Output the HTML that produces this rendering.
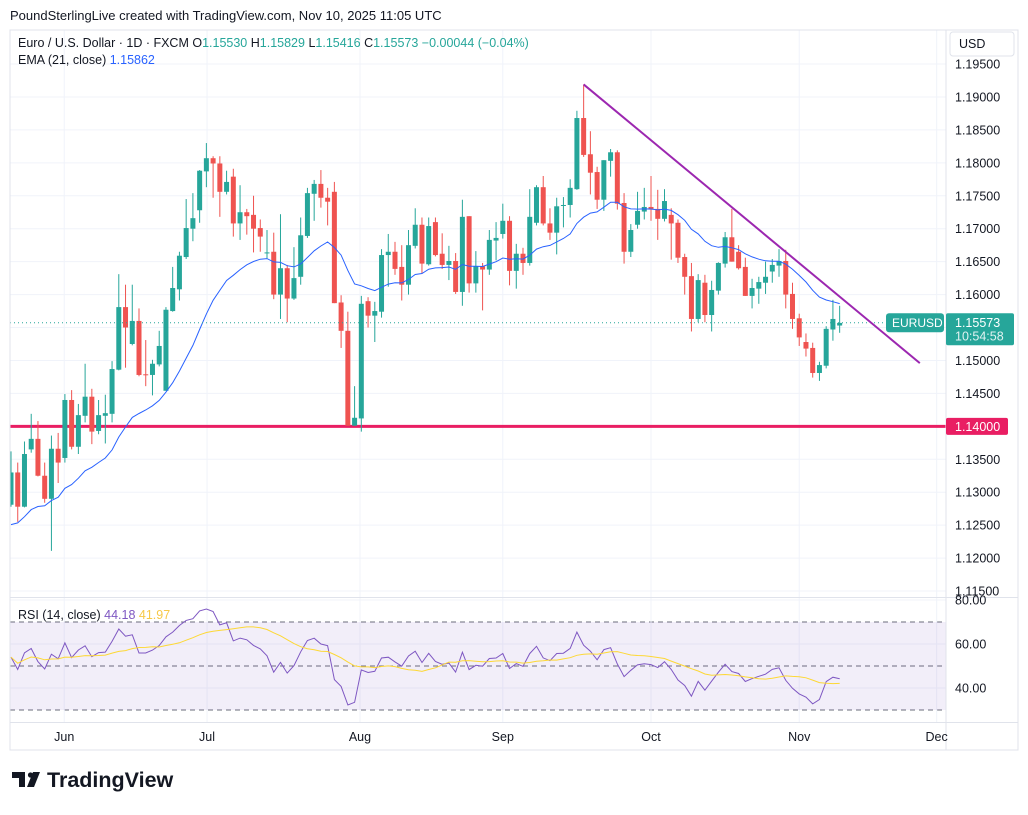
<!DOCTYPE html>
<html><head><meta charset="utf-8"><style>
html,body{margin:0;padding:0;background:#fff;}
body{width:1028px;height:810px;overflow:hidden;font-family:"Liberation Sans",sans-serif;}
svg text{font-family:"Liberation Sans",sans-serif;}
</style></head><body>
<svg id="chart" width="1028" height="810" viewBox="0 0 1028 810" xmlns="http://www.w3.org/2000/svg">
<defs>
<clipPath id="mainClip"><rect x="10" y="30" width="936" height="567"/></clipPath>
<clipPath id="rsiClip"><rect x="10" y="598" width="936" height="124"/></clipPath>
</defs>
<rect x="0" y="0" width="1028" height="810" fill="#fff"/>
<text x="10" y="20" font-size="13" fill="#131722">PoundSterlingLive created with TradingView.com, Nov 10, 2025 11:05 UTC</text>
<g id="grid"></g>
<rect x="10" y="622" width="936" height="88" fill="#7e57c2" fill-opacity="0.1"/>
<g id="main" clip-path="url(#mainClip)"></g>
<g id="rsi" clip-path="url(#rsiClip)"></g>
<g id="frame">
<rect x="10" y="30" width="1008" height="720" fill="none" stroke="#e0e3eb" stroke-width="1"/>
<line x1="946" y1="30" x2="946" y2="750" stroke="#e0e3eb"/>
<line x1="10" y1="597.5" x2="1018" y2="597.5" stroke="#e0e3eb"/>
<line x1="10" y1="722.5" x2="1018" y2="722.5" stroke="#e0e3eb"/>
</g>
<g id="axes"></g>
<text x="18" y="47" font-size="12.5" fill="#131722">Euro / U.S. Dollar · 1D · FXCM <tspan fill="#131722">O</tspan><tspan fill="#26a69a">1.15530</tspan> <tspan>H</tspan><tspan fill="#26a69a">1.15829</tspan> <tspan>L</tspan><tspan fill="#26a69a">1.15416</tspan> <tspan>C</tspan><tspan fill="#26a69a">1.15573</tspan> <tspan fill="#26a69a">−0.00044 (−0.04%)</tspan></text>
<text x="18" y="64" font-size="12.5" fill="#131722">EMA (21, close) <tspan fill="#2962ff">1.15862</tspan></text>
<text x="18" y="619" font-size="12.5" fill="#131722">RSI (14, close) <tspan fill="#7e57c2">44.18</tspan> <tspan fill="#f7c948">41.97</tspan></text>
<g>
<rect x="950" y="32" width="64" height="24" rx="3" fill="#fff" stroke="#e0e3eb"/>
<text x="959" y="48" font-size="12.5" fill="#131722">USD</text>
</g>
<g>
<path d="M12 772h13v15h-6v-9h-7z M27 787l6-15h7l-6 15z" fill="#131722"/>
<circle cx="30.5" cy="775" r="2.6" fill="#131722"/>
<text x="47" y="787" font-size="21.5" font-weight="bold" fill="#131722">TradingView</text>
</g>
</svg>
<script>
const opens=[1.1281,1.1330,1.1278,1.1365,1.1381,1.1325,1.1290,1.1366,1.1352,1.1440,1.1369,1.1416,1.1445,1.1393,1.1416,1.1419,1.1486,1.1581,1.1525,1.1560,1.1479,1.1478,1.1494,1.1454,1.1575,1.1608,1.1657,1.1700,1.1728,1.1787,1.1807,1.1799,1.1756,1.1779,1.1708,1.1725,1.1721,1.1701,1.1663,1.1665,1.1600,1.1640,1.1594,1.1627,1.1689,1.1753,1.1768,1.1747,1.1756,1.1588,1.1545,1.1401,1.1412,1.1590,1.1568,1.1574,1.1660,1.1665,1.1642,1.1615,1.1674,1.1706,1.1646,1.1710,1.1662,1.1645,1.1651,1.1604,1.1719,1.1617,1.1643,1.1638,1.1682,1.1692,1.1712,1.1636,1.1662,1.1648,1.1709,1.1763,1.1708,1.1694,1.1735,1.1736,1.1760,1.1868,1.1813,1.1786,1.1744,1.1803,1.1816,1.1739,1.1665,1.1706,1.1726,1.1733,1.1730,1.1715,1.1721,1.1709,1.1657,1.1628,1.1563,1.1618,1.1569,1.1606,1.1647,1.1687,1.1665,1.1642,1.1598,1.1609,1.1618,1.1635,1.1644,1.1651,1.1601,1.1564,1.1528,1.1519,1.1481,1.1492,1.1547,1.1553];
const highs=[1.1362,1.1345,1.1377,1.1419,1.1408,1.1345,1.1386,1.1390,1.1449,1.1455,1.1434,1.1495,1.1457,1.1440,1.1448,1.1499,1.1631,1.1615,1.1615,1.1579,1.1531,1.1501,1.1545,1.1581,1.1642,1.1665,1.1745,1.1754,1.1789,1.1830,1.1810,1.1810,1.1788,1.1791,1.1766,1.1730,1.1750,1.1714,1.1698,1.1694,1.1722,1.1645,1.1672,1.1717,1.1762,1.1774,1.1789,1.1762,1.1771,1.1599,1.1574,1.1461,1.1598,1.1596,1.1589,1.1669,1.1692,1.1680,1.1675,1.1698,1.1731,1.1717,1.1717,1.1717,1.1693,1.1674,1.1663,1.1744,1.1719,1.1666,1.1648,1.1698,1.1710,1.1738,1.1719,1.1677,1.1671,1.1760,1.1766,1.1780,1.1731,1.1747,1.1748,1.1775,1.1879,1.1919,1.1848,1.1794,1.1804,1.1821,1.1819,1.1754,1.1707,1.1756,1.1762,1.1780,1.1759,1.1760,1.1731,1.1714,1.1662,1.1648,1.1631,1.1630,1.1621,1.1649,1.1695,1.1730,1.1675,1.1656,1.1624,1.1627,1.1650,1.1654,1.1669,1.1668,1.1618,1.1571,1.1541,1.1527,1.1498,1.1552,1.1592,1.1583];
const lows=[1.1278,1.1255,1.1277,1.1360,1.1324,1.1284,1.1211,1.1314,1.1345,1.1365,1.1358,1.1406,1.1373,1.1388,1.1374,1.1406,1.1485,1.1489,1.1523,1.1476,1.1461,1.1447,1.1491,1.1454,1.1574,1.1591,1.1654,1.1681,1.1709,1.1763,1.1747,1.1718,1.1752,1.1688,1.1683,1.1691,1.1664,1.1665,1.1655,1.1593,1.1563,1.1558,1.1592,1.1615,1.1686,1.1712,1.1732,1.1705,1.1587,1.1519,1.1401,1.1401,1.1392,1.1550,1.1528,1.1565,1.1612,1.1630,1.1591,1.1600,1.1670,1.1632,1.1644,1.1658,1.1639,1.1622,1.1601,1.1583,1.1603,1.1603,1.1576,1.1630,1.1652,1.1685,1.1614,1.1609,1.1630,1.1644,1.1705,1.1705,1.1683,1.1661,1.1702,1.1717,1.1759,1.1809,1.1752,1.1730,1.1727,1.1779,1.1729,1.1647,1.1657,1.1700,1.1714,1.1712,1.1683,1.1711,1.1653,1.1648,1.1600,1.1544,1.1558,1.1558,1.1544,1.1600,1.1641,1.1650,1.1638,1.1598,1.1579,1.1586,1.1601,1.1618,1.1627,1.1579,1.1548,1.1522,1.1506,1.1474,1.1469,1.1488,1.1530,1.1542];
const closes=[1.1330,1.1278,1.1358,1.1381,1.1325,1.1290,1.1366,1.1345,1.1440,1.1369,1.1417,1.1445,1.1392,1.1417,1.1420,1.1487,1.1581,1.1550,1.1560,1.1478,1.1478,1.1495,1.1522,1.1577,1.1610,1.1659,1.1701,1.1716,1.1788,1.1807,1.1799,1.1756,1.1771,1.1708,1.1725,1.1719,1.1700,1.1688,1.1664,1.1600,1.1640,1.1594,1.1625,1.1690,1.1754,1.1768,1.1747,1.1741,1.1587,1.1545,1.1401,1.1413,1.1586,1.1568,1.1575,1.1660,1.1665,1.1639,1.1615,1.1675,1.1706,1.1647,1.1704,1.1660,1.1645,1.1651,1.1604,1.1718,1.1617,1.1643,1.1638,1.1683,1.1686,1.1712,1.1636,1.1662,1.1648,1.1718,1.1763,1.1708,1.1694,1.1734,1.1736,1.1762,1.1868,1.1812,1.1785,1.1744,1.1804,1.1816,1.1738,1.1665,1.1698,1.1727,1.1733,1.1729,1.1715,1.1742,1.1708,1.1656,1.1627,1.1563,1.1622,1.1569,1.1607,1.1648,1.1687,1.1650,1.1640,1.1598,1.1610,1.1619,1.1627,1.1645,1.1651,1.1600,1.1563,1.1535,1.1518,1.1481,1.1493,1.1548,1.1563,1.1557];
const priceTicks=[1.195,1.19,1.185,1.18,1.175,1.17,1.165,1.16,1.155,1.15,1.145,1.14,1.135,1.13,1.125,1.12,1.115];
const rsiTicks=[80,60,40];
const monthLabels=["Jun","Jul","Aug","Sep","Oct","Nov","Dec"];
const monthIndex=[7.9,29.1,51.8,73.0,95.0,117.0,137.4];
const supportLevel=[1.14];
const trendStart=[85,1.1919];
const trendEnd=[134.9,1.1496];
const emaSeed=[1.1243];
const emaLength=[21];
const rsiLength=[14];
const rsiSeed=[0.0020,0.0017];
const lastPrice=[1.15573];

const NS="http://www.w3.org/2000/svg";
function xS(i){return 11+i*6.737;}
function yS(p){return 64+(1.195-p)*6588;}
function rS(r){return 666-(r-50)*2.2;}
function mk(tag,attrs,parent){const e=document.createElementNS(NS,tag);for(const k in attrs)e.setAttribute(k,attrs[k]);parent.appendChild(e);return e;}
const grid=document.getElementById('grid'),main=document.getElementById('main'),rsiG=document.getElementById('rsi'),axes=document.getElementById('axes');

priceTicks.forEach(p=>{const y=yS(p);
 const l=mk('line',{x1:10,x2:946,y1:y,y2:y,stroke:'#f0f3fa'},grid);
 
 
 const t=mk('text',{x:955,y:y+4.5,'font-size':12.5,fill:'#131722'},axes);t.textContent=p.toFixed(5);
 
 
});
rsiTicks.forEach(r=>{const y=rS(r);
 const l=mk('line',{x1:10,x2:946,y1:y,y2:y,stroke:'#f0f3fa'},grid);
 
 
 const t=mk('text',{x:955,y:y+4.5,'font-size':12.5,fill:'#131722'},axes);t.textContent=r.toFixed(2);
 
 
});
[70,50,30].forEach(r=>{const y=rS(r);
 const l=mk('line',{x1:10,x2:946,y1:y,y2:y,stroke:'#6a6d78','stroke-dasharray':'5,4','stroke-width':1},grid);
 
 
});
monthLabels.forEach((m,k)=>{const x=xS(monthIndex[k]);
 const l=mk('line',{x1:x,x2:x,y1:30,y2:722,stroke:'#f0f3fa'},grid);
 
 
 if(x<946){const t=mk('text',{x:x,y:741,'font-size':12.5,fill:'#131722','text-anchor':'middle'},axes);t.textContent=m;
 
 }
});

const sy=yS(supportLevel[0]);
const sl=mk('line',{x1:10,x2:946,y1:sy,y2:sy,stroke:'#e91e63','stroke-width':3},main);



for(let i=0;i<closes.length;i++){
 const up=closes[i]>=opens[i];const col=up?'#26a69a':'#ef5350';const x=xS(i);
 const g=mk('g',{},main);
 
 
 mk('line',{x1:x,x2:x,y1:yS(highs[i]),y2:yS(lows[i]),stroke:col,'stroke-width':1},g);
 const t=yS(Math.max(opens[i],closes[i])),b=yS(Math.min(opens[i],closes[i]));
 mk('rect',{x:x-2.5,y:t,width:5,height:Math.max(1,b-t),fill:col},g);
}
let ema=emaSeed[0];const a=2/(emaLength[0]+1);const ep=[];
for(let i=0;i<closes.length;i++){ema=ema+(closes[i]-ema)*a;ep.push(xS(i).toFixed(1)+','+yS(ema).toFixed(1));}
const emaL=mk('polyline',{points:ep.join(' '),fill:'none',stroke:'#2962ff','stroke-width':1},main);



const ly=yS(lastPrice[0]);
const ll=mk('line',{x1:10,x2:886,y1:ly,y2:ly,stroke:'#26a69a','stroke-dasharray':'1,3'},main);



const tl=mk('line',{x1:xS(trendStart[0]),y1:yS(trendStart[1]),x2:xS(trendEnd[0]),y2:yS(trendEnd[1]),stroke:'#9c27b0','stroke-width':2},main);



let ag=rsiSeed[0],al=rsiSeed[1];const n=rsiLength[0];const rv=[];
for(let i=0;i<closes.length;i++){
 const d=i>0?closes[i]-closes[i-1]:0;
 ag=(ag*(n-1)+Math.max(d,0))/n;al=(al*(n-1)+Math.max(-d,0))/n;
 rv.push(100-100/(1+ag/al));
}
const rp=rv.map((r,i)=>xS(i).toFixed(1)+','+rS(r).toFixed(1));
const rl=mk('polyline',{points:rp.join(' '),fill:'none',stroke:'#7e57c2','stroke-width':1},rsiG);


const mp=rv.map((r,i)=>{const s=rv.slice(Math.max(0,i-13),i+1);const m=s.reduce((u,v)=>u+v,0)/s.length;return xS(i).toFixed(1)+','+rS(m).toFixed(1);});
const ml=mk('polyline',{points:mp.join(' '),fill:'none',stroke:'#fdd835','stroke-width':1},rsiG);



const tg=mk('g',{},axes);


mk('rect',{x:886,y:ly-9.5,width:58,height:19,rx:3,fill:'#26a69a'},tg);
const t1=mk('text',{x:892,y:ly+4.5,'font-size':12,fill:'#fff'},tg);t1.textContent='EURUSD';
mk('rect',{x:946,y:ly-9.5,width:68,height:32,rx:2,fill:'#26a69a'},tg);
const t2=mk('text',{x:955,y:ly+4.5,'font-size':12.5,fill:'#fff'},tg);t2.textContent=lastPrice[0].toFixed(5);
const t3=mk('text',{x:955,y:ly+18,'font-size':12.5,fill:'#e0f2f1'},tg);t3.textContent='10:54:58';
const sg=mk('g',{},axes);


mk('rect',{x:946,y:sy-8.5,width:62,height:17,rx:2,fill:'#e91e63'},sg);
const t4=mk('text',{x:955,y:sy+4.5,'font-size':12.5,fill:'#fff'},sg);t4.textContent=supportLevel[0].toFixed(5);
</script>
</body></html>
